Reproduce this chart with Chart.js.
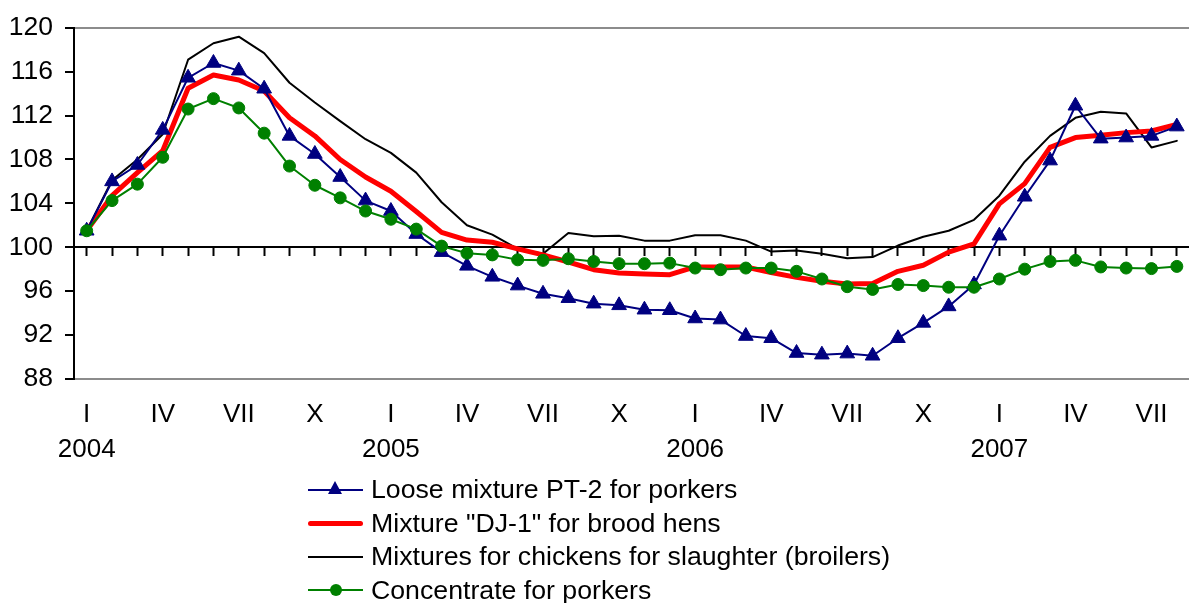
<!DOCTYPE html>
<html>
<head>
<meta charset="utf-8">
<script src="https://cdn.jsdelivr.net/npm/chart.js@4.4.1/dist/chart.umd.min.js"></script>
<style>
html,body{margin:0;padding:0;background:#fff;overflow:hidden;width:1189px;height:603px;}
#wrap{position:absolute;left:0;top:0;width:1199px;height:603px;}
#legend{position:absolute;left:308px;top:473px;font-family:"Liberation Sans",Arial,sans-serif;font-size:26.7px;color:#000;}
.row{display:flex;align-items:center;height:33.5px;line-height:33.5px;white-space:nowrap;}
.sample{position:relative;width:55px;height:33.5px;margin-right:8px;flex:none;}
.ln{position:absolute;left:0;right:0;top:50%;}
.tri{position:absolute;left:20px;width:0;height:0;border-left:7.5px solid transparent;border-right:7.5px solid transparent;}
.dot{position:absolute;left:21.5px;border-radius:50%;}
</style>
</head>
<body>
<div id="wrap"><canvas id="c"></canvas></div>
<div id="legend"></div>
<script>
// ---- data ----
const years = ['2004', '2005', '2006', '2007'];
const monthNumerals = ['I','II','III','IV','V','VI','VII','VIII','IX','X','XI','XII'];
const shownMonthTicks = ['I', 'IV', 'VII', 'X'];
const monthCount = 44; // Jan 2004 .. Aug 2007
const categories = [];
for (let i = 0; i < monthCount; i++) {
  categories.push(monthNumerals[i % 12] + ' ' + years[Math.floor(i / 12)]);
}

const seriesNames = [
  'Loose mixture PT-2 for porkers',
  'Mixture "DJ-1" for brood hens',
  'Mixtures for chickens for slaughter (broilers)',
  'Concentrate for porkers'
];

const loosePT2 = [
  101.5, 106.0, 107.5, 110.7, 115.45, 116.8, 116.1, 114.45, 110.15, 108.5, 106.4, 104.25,
  103.3, 101.2, 99.55, 98.3, 97.3, 96.5, 95.75, 95.35, 94.85, 94.7, 94.3, 94.25,
  93.5, 93.4, 91.9, 91.7, 90.35, 90.2, 90.3, 90.1, 91.7, 93.1, 94.6, 96.6,
  101.05, 104.6, 107.9, 112.9, 109.9, 110.0, 110.15, 111.0
];
const mixtureDJ1 = [
  101.5, 104.7, 106.8, 108.8, 114.5, 115.7, 115.25, 114.25, 111.8, 110.15, 108.0, 106.4,
  105.1, 103.25, 101.35, 100.65, 100.45, 99.85, 99.3, 98.65, 97.95, 97.65, 97.55, 97.5,
  98.2, 98.2, 98.2, 97.7, 97.25, 96.9, 96.65, 96.7, 97.8, 98.35, 99.55, 100.3,
  103.95, 105.8, 109.1, 110.0, 110.2, 110.45, 110.6, 111.2
];
const broilers = [
  101.5, 106.1, 108.0, 110.3, 117.1, 118.6, 119.2, 117.7, 115.0, 113.2, 111.5, 109.85,
  108.6, 106.8, 104.1, 102.0, 101.15, 99.85, 99.4, 101.3, 101.0, 101.05, 100.6, 100.6,
  101.1, 101.1, 100.6, 99.6, 99.7, 99.4, 99.0, 99.1, 100.15, 100.95, 101.5, 102.5,
  104.7, 107.8, 110.15, 111.8, 112.35, 112.2, 109.1, 109.7
];
const concentrate = [
  101.5, 104.25, 105.75, 108.2, 112.6, 113.55, 112.7, 110.4, 107.4, 105.65, 104.5, 103.3,
  102.55, 101.65, 100.1, 99.45, 99.3, 98.85, 98.8, 98.95, 98.7, 98.5, 98.5, 98.55,
  98.1, 97.95, 98.1, 98.1, 97.8, 97.1, 96.4, 96.15, 96.6, 96.5, 96.35, 96.35,
  97.1, 98.0, 98.7, 98.8, 98.2, 98.1, 98.05, 98.25
];

const yMin = 88, yMax = 120, yStep = 4, baseValue = 100;

// ---- chart ----
const FONT = '"Liberation Sans", Arial, sans-serif';
const datasets = [
  { label: seriesNames[0], data: loosePT2, borderColor: '#000080', backgroundColor: '#000080',
    borderWidth: 2, pointStyle: 'triangle', pointRadius: 8.5, pointBorderWidth: 1, order: 1 },
  { label: seriesNames[1], data: mixtureDJ1, borderColor: '#ff0000', backgroundColor: '#ff0000',
    borderWidth: 5, pointRadius: 0, order: 2 },
  { label: seriesNames[2], data: broilers, borderColor: '#000000', backgroundColor: '#000000',
    borderWidth: 2, pointRadius: 0, order: 3 },
  { label: seriesNames[3], data: concentrate, borderColor: '#008000', backgroundColor: '#008000',
    borderWidth: 2, pointStyle: 'circle', pointRadius: 6, pointBorderWidth: 1, order: 0 }
];
datasets.forEach(d => { d.tension = 0; d.borderJoinStyle = 'round'; d.borderCapStyle = 'round'; d.pointHoverRadius = d.pointRadius; });

new Chart(document.getElementById('c'), {
  type: 'line',
  data: { labels: categories, datasets: datasets },
  options: {
    responsive: true,
    maintainAspectRatio: false,
    devicePixelRatio: 1,
    animation: false,
    events: [],
    layout: { padding: { top: 25, left: 0, right: 1, bottom: 118 } },
    plugins: { legend: { display: false }, tooltip: { enabled: false } },
    scales: {
      x: {
        type: 'category',
        position: 'bottom',
        offset: true,
        border: { display: false },
        grid: { display: false, drawTicks: false },
        ticks: {
          autoSkip: false,
          maxRotation: 0,
          padding: 18,
          color: '#000',
          font: { family: FONT, size: 26, lineHeight: 1.35 },
          callback: function (value, index) {
            const m = monthNumerals[index % 12];
            if (shownMonthTicks.indexOf(m) < 0) return '';
            if (index % 12 === 0) return [m, years[Math.floor(index / 12)]];
            return m;
          }
        }
      },
      xBase: {
        type: 'category',
        position: { y: baseValue },
        offset: true,
        border: { display: true, color: '#000', width: 2 },
        grid: { drawOnChartArea: false, drawTicks: true, tickLength: 8, tickColor: '#000', tickWidth: 2 },
        ticks: { display: false }
      },
      y: {
        min: yMin,
        max: yMax,
        border: { display: true, color: '#000', width: 2 },
        grid: {
          drawTicks: true,
          tickLength: 9,
          tickColor: '#000',
          tickWidth: 2,
          lineWidth: 2,
          color: ctx => (ctx.tick && (ctx.tick.value === yMax || ctx.tick.value === yMin)) ? '#8c8c8c' : 'rgba(0,0,0,0)'
        },
        afterFit: s => { s.width = 74; },
        ticks: {
          stepSize: yStep,
          padding: 12,
          color: '#000',
          font: { family: FONT, size: 26.5 }
        }
      }
    }
  }
});

// ---- legend (HTML, from the datasets) ----
const leg = document.getElementById('legend');
datasets.forEach(d => {
  const row = document.createElement('div'); row.className = 'row';
  const s = document.createElement('div'); s.className = 'sample';
  const ln = document.createElement('div'); ln.className = 'ln';
  ln.style.height = d.borderWidth + 'px';
  ln.style.marginTop = (-d.borderWidth / 2) + 'px';
  ln.style.background = d.borderColor;
  if (d.borderWidth > 3) ln.style.borderRadius = (d.borderWidth / 2) + 'px';
  s.appendChild(ln);
  if (d.pointRadius > 0 && d.pointStyle === 'triangle') {
    const t = document.createElement('div'); t.className = 'tri';
    t.style.borderBottom = '13px solid ' + d.backgroundColor;
    t.style.top = 'calc(50% - 8.5px)';
    s.appendChild(t);
  } else if (d.pointRadius > 0) {
    const c = document.createElement('div'); c.className = 'dot';
    c.style.width = (d.pointRadius * 2) + 'px'; c.style.height = (d.pointRadius * 2) + 'px';
    c.style.left = (27.5 - d.pointRadius) + 'px';
    c.style.top = 'calc(50% - ' + d.pointRadius + 'px)';
    c.style.background = d.backgroundColor;
    s.appendChild(c);
  }
  const tx = document.createElement('span'); tx.textContent = d.label;
  row.appendChild(s); row.appendChild(tx);
  leg.appendChild(row);
});
</script>
</body>
</html>
